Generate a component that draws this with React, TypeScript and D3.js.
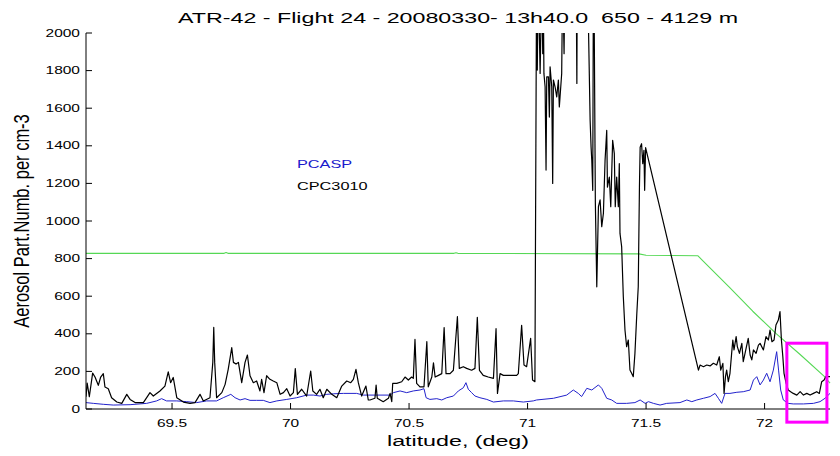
import React from 'react';
import * as d3 from 'd3';

const titleText = 'ATR-42 - Flight 24 - 20080330- 13h40.0  650 - 4129 m';
const xLabelText = 'latitude, (deg)';
const yLabelText = 'Aerosol Part.Numb. per cm-3';
const legendLabels = ['PCASP', 'CPC3010'];
const xTickValues = [69.5, 70, 70.5, 71, 71.5, 72];
const yTickValues = [0, 200, 400, 600, 800, 1000, 1200, 1400, 1600, 1800, 2000];
const xDomain = [69.137, 72.276];
const yDomain = [0, 2000];
const highlightLat = [72.094, 72.263];
const highlightVal = [-70, 350];

// CPC3010 (black)
const cpcLat = [
  69.137, 69.142, 69.151, 69.165, 69.175, 69.189, 69.199, 69.21, 69.217, 69.231, 69.245, 69.267, 69.288, 69.309,
  69.323, 69.344, 69.379, 69.407, 69.421, 69.449, 69.47, 69.484, 69.494, 69.505, 69.52, 69.548, 69.576, 69.597,
  69.618, 69.632, 69.66, 69.672, 69.676, 69.68, 69.688, 69.71, 69.724, 69.737, 69.752, 69.759, 69.77, 69.78,
  69.794, 69.808, 69.818, 69.829, 69.843, 69.857, 69.871, 69.878, 69.888, 69.899, 69.913, 69.927, 69.942, 69.956,
  69.97, 69.984, 69.998, 70.012, 70.02, 70.029, 70.047, 70.068, 70.085, 70.094, 70.11, 70.124, 70.138, 70.153,
  70.174, 70.195, 70.216, 70.237, 70.254, 70.265, 70.276, 70.286, 70.3, 70.318, 70.328,
  70.335, 70.356, 70.361, 70.366, 70.391, 70.413, 70.42, 70.427, 70.431, 70.448, 70.469, 70.483, 70.497, 70.511,
  70.518, 70.525, 70.532, 70.546, 70.563, 70.575, 70.581, 70.596, 70.603, 70.61, 70.624, 70.638, 70.648, 70.656,
  70.673, 70.687, 70.704, 70.712, 70.729, 70.743, 70.764, 70.778, 70.788, 70.797, 70.813, 70.834, 70.856, 70.867,
  70.873, 70.884, 70.898, 70.926, 70.954, 70.961, 70.975, 70.985, 70.996, 71.013, 71.021, 71.031,
  71.038, 71.041, 71.045, 71.053, 71.06, 71.064, 71.066, 71.069, 71.074, 71.078, 71.081, 71.088, 71.092, 71.095,
  71.102, 71.106, 71.109, 71.116, 71.123, 71.13, 71.134, 71.137, 71.144, 71.148, 71.154, 71.158, 71.2, 71.205,
  71.208, 71.21, 71.25, 71.256, 71.264, 71.268, 71.271, 71.275, 71.278, 71.281, 71.286, 71.292, 71.299, 71.306,
  71.313, 71.32, 71.327, 71.334, 71.337, 71.345, 71.351, 71.359, 71.366, 71.37, 71.376, 71.383, 71.387, 71.39,
  71.397, 71.404, 71.411, 71.418, 71.425, 71.432, 71.439, 71.446, 71.453, 71.461, 71.467, 71.472, 71.475, 71.481,
  71.486, 71.491, 71.494, 71.498,
  71.721, 71.728, 71.742, 71.756, 71.77, 71.784, 71.798, 71.809, 71.815, 71.824, 71.829, 71.835, 71.84, 71.847,
  71.854, 71.861, 71.866, 71.871, 71.88, 71.885, 71.894, 71.904, 71.91, 71.922, 71.931, 71.939, 71.946, 71.953,
  71.964, 71.974, 71.981, 71.995, 72.006, 72.016, 72.023, 72.031, 72.04, 72.048, 72.058, 72.065, 72.071, 72.077,
  72.082, 72.091, 72.1, 72.11, 72.121, 72.136, 72.15, 72.164, 72.178, 72.192, 72.206, 72.22, 72.231, 72.241,
  72.251, 72.258, 72.269, 72.276,
];
const cpcVal = [
  65, 138, 65, 191, 170, 126, 170, 188, 117, 108, 60, 37, 30, 78,
  51, 34, 34, 87, 69, 96, 122, 198, 140, 168, 60, 37, 30, 34,
  78, 43, 60, 248, 434, 248, 60, 87, 131, 211, 326, 248, 239, 248,
  140, 248, 287, 177, 140, 149, 96, 158, 87, 177, 158, 149, 140, 78,
  87, 108, 69, 87, 215, 78, 105, 69, 202, 96, 78, 105, 60, 105,
  78, 60, 122, 149, 140, 158, 211, 140, 69, 122, 48,
  48, 57, 127, 57, 39, 57, 83, 39, 136, 136, 145, 170, 154, 170,
  163, 370, 136, 118, 118, 358, 118, 170, 245, 170, 179, 188, 433, 188,
  188, 206, 491, 216, 225, 216, 206, 216, 488, 206, 179, 170, 163, 427,
  83, 188, 179, 179, 179, 188, 445, 234, 225, 376, 154, 145,
  2300, 1803, 2300, 1785, 2300, 1890, 2300, 1785, 1714, 1271, 1767, 1767, 1553, 1820,
  1714, 1200, 1750, 1714, 1660, 1750, 1607, 1660, 1785, 2300, 1890, 2400, 2400, 2300,
  1732, 2400, 2400, 2100, 1535, 1393, 1322, 1163, 2400, 2100, 1100, 650, 1076, 1112,
  970, 1041, 1323, 1482, 1180, 1234, 1076, 1429, 1358, 1076, 1234, 1076, 1305, 934,
  863, 597, 420, 331, 367, 207, 190, 172, 296, 509, 650, 1180, 1393, 1411,
  1305, 1376, 1163, 1390,
  207, 234, 225, 234, 229, 243, 234, 278, 207, 243, 83, 172, 207, 145,
  190, 296, 367, 314, 385, 332, 296, 349, 252, 323, 376, 287, 261, 314,
  296, 340, 349, 314, 385, 367, 420, 358, 367, 447, 473, 518, 367, 278,
  190, 136, 101, 92, 83, 74, 92, 74, 83, 74, 83, 92, 83, 145,
  154, 172, 172, 172,
];

// PCASP (blue)
const pcaspLat = [
  69.137, 69.168, 69.21, 69.252, 69.323, 69.393, 69.435, 69.456, 69.477, 69.52, 69.562, 69.604, 69.646, 69.688,
  69.716, 69.748, 69.766, 69.787, 69.808, 69.829, 69.857, 69.885, 69.913, 69.942, 69.984, 70.026, 70.068, 70.096,
  70.124, 70.153, 70.181, 70.223, 70.279, 70.307,
  70.335, 70.42, 70.434, 70.462, 70.49, 70.518, 70.546, 70.563, 70.572, 70.588, 70.617, 70.638, 70.659, 70.687,
  70.708, 70.729, 70.74, 70.75, 70.764, 70.778, 70.799, 70.828, 70.856, 70.898, 70.94, 70.982, 71.024,
  71.038, 71.109, 71.165, 71.193, 71.214, 71.228, 71.25, 71.271, 71.299, 71.313, 71.334, 71.355, 71.376, 71.418,
  71.453, 71.475, 71.496, 71.51, 71.531, 71.559, 71.587,
  71.643, 71.672, 71.693, 71.714, 71.742, 71.77, 71.791, 71.805, 71.819, 71.833, 71.854, 71.883, 71.91, 71.939,
  71.953, 71.967, 71.981, 71.995, 72.009, 72.023, 72.037, 72.051, 72.059, 72.068, 72.079, 72.1, 72.121, 72.164,
  72.206, 72.234, 72.255, 72.276,
];
const pcaspVal = [
  34, 30, 25, 21, 23, 30, 43, 55, 43, 43, 39, 34, 43, 43,
  60, 78, 60, 48, 55, 46, 46, 46, 34, 43, 51, 60, 74, 74,
  69, 78, 81, 83, 83, 74,
  74, 74, 87, 96, 87, 96, 101, 108, 60, 51, 55, 48, 60, 69,
  96, 113, 140, 105, 87, 69, 60, 51, 37, 43, 43, 37, 43,
  48, 57, 74, 101, 83, 66, 110, 101, 128, 110, 57, 48, 30, 30,
  34, 48, 30, 39, 30, 21, 30,
  34, 48, 39, 48, 57, 66, 83, 57, 30, 83, 83, 89, 92, 101,
  154, 172, 128, 154, 190, 145, 207, 305, 207, 101, 48, 30, 27, 27,
  30, 39, 57, 83,
];

// third trace (green)
const greenLat = [69.137, 69.72, 69.728, 69.736, 70.69, 70.698, 70.706, 71.47, 71.5, 71.719, 71.742, 71.85, 71.95, 72.05, 72.15, 72.253, 72.276];
const greenVal = [828, 828, 832, 828, 828, 831, 828, 825, 818, 815, 785, 650, 520, 400, 290, 172, 138];

const W = 840;
const H = 456;
const left = 86;
const right = 830;
const top = 33;
const bottom = 409;
const FONT = '"Liberation Sans", Arial, Helvetica, sans-serif';
const SX = 1.55;

function SText(props: { x: number; y: number; size: number; anchor?: string; fill?: string; sx?: number; children: any }) {
  const { x, y, size, anchor = 'start', fill = '#000', sx = SX, children } = props;
  return (
    <text
      transform={`translate(${x},${y}) scale(${sx},1)`}
      textAnchor={anchor as any}
      fontFamily={FONT}
      fontSize={size}
      fill={fill}
      style={{ whiteSpace: 'pre' }}
    >
      {children}
    </text>
  );
}

export default function App() {
  const x = d3.scaleLinear().domain(xDomain).range([left, right]);
  const y = d3.scaleLinear().domain(yDomain).range([bottom, top]);

  const mk = (lat: number[], val: number[]) =>
    d3
      .line<number>()
      .x((_, i) => x(lat[i]))
      .y((_, i) => y(val[i]))(lat.map((_, i) => i)) || '';

  const cpcPath = mk(cpcLat, cpcVal);
  const pcaspPath = mk(pcaspLat, pcaspVal);
  const greenPath = mk(greenLat, greenVal);

  const hx0 = x(highlightLat[0]);
  const hx1 = x(highlightLat[1]);
  const hy0 = y(highlightVal[1]);
  const hy1 = y(highlightVal[0]);

  return (
    <svg
      width={W}
      height={H}
      viewBox={`0 0 ${W} ${H}`}
      style={{ position: 'absolute', left: 0, top: 0, background: '#fff' }}
    >
      <defs>
        <clipPath id="plotClip">
          <rect x={left} y={top} width={right - left + 1} height={bottom - top} />
        </clipPath>
      </defs>
      <rect x={0} y={0} width={W} height={H} fill="#fff" />

      <g clipPath="url(#plotClip)" fill="none" strokeLinejoin="round">
        <path d={greenPath} stroke="#55d855" strokeWidth={1.1} />
        <path d={pcaspPath} stroke="#2222cc" strokeWidth={1} />
        <path d={cpcPath} stroke="#000" strokeWidth={1.2} />
      </g>

      {/* axes */}
      <line x1={left} x2={left} y1={top} y2={bottom} stroke="#000" strokeWidth={1} />
      <line x1={left} x2={right} y1={bottom} y2={bottom} stroke="#000" strokeWidth={1} />
      {yTickValues.map((v) => (
        <g key={'y' + v}>
          <line x1={left} x2={left + 6} y1={y(v)} y2={y(v)} stroke="#000" />
          <SText x={left - 6} y={y(v) + 3.6} size={10} anchor="end">
            {String(v)}
          </SText>
        </g>
      ))}
      {xTickValues.map((v) => (
        <g key={'x' + v}>
          <line x1={x(v)} x2={x(v)} y1={bottom} y2={bottom - 6} stroke="#000" />
          <SText x={x(v)} y={427} size={10} anchor="middle">
            {String(v)}
          </SText>
        </g>
      ))}

      {/* highlight box */}
      <rect x={hx0} y={hy0} width={hx1 - hx0} height={hy1 - hy0} fill="none" stroke="#ff00ff" strokeWidth={3} />

      {/* legend text */}
      <SText x={297} y={168} size={10.5} fill="#1a1acc">
        {legendLabels[0]}
      </SText>
      <SText x={297} y={190} size={10.5} fill="#000">
        {legendLabels[1]}
      </SText>

      {/* title and labels */}
      <SText x={(left + right) / 2} y={23} size={15} anchor="middle">
        {titleText}
      </SText>
      <SText x={(left + right) / 2} y={446} size={15} anchor="middle">
        {xLabelText}
      </SText>
      <text
        transform={`translate(29,${(top + bottom) / 2}) rotate(-90) scale(1,1.35)`}
        textAnchor="middle"
        fontFamily={FONT}
        fontSize={16.5}
        fill="#000"
      >
        {yLabelText}
      </text>
    </svg>
  );
}
